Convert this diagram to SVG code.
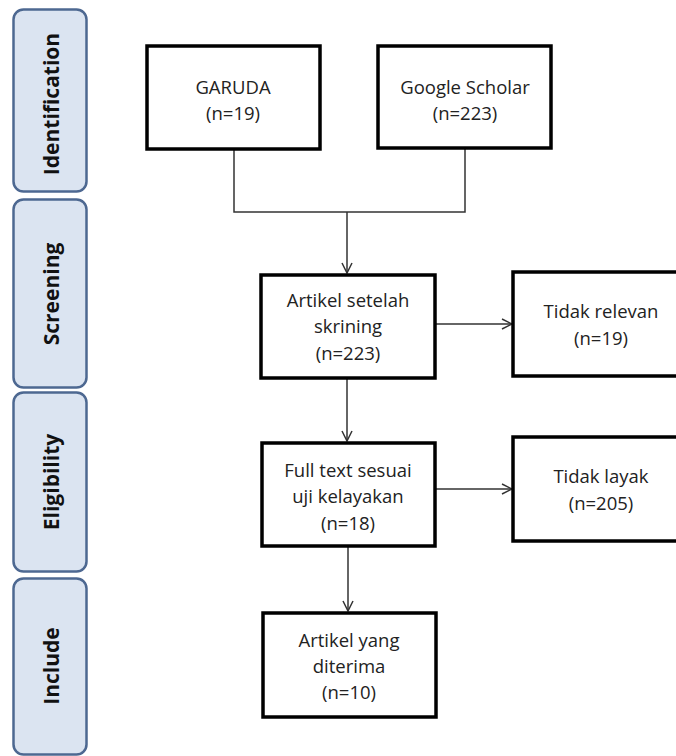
<svg xmlns="http://www.w3.org/2000/svg" width="676" height="756" viewBox="0 0 676 756">
<style>
.phase{fill:#dbe4f1;stroke:#4d6891;stroke-width:2.5}
.plabel{font-family:"Open Sans","Liberation Sans",sans-serif;font-weight:bold;font-size:21px;fill:#111;text-anchor:middle;dominant-baseline:central}
.box{fill:#fff;stroke:#000;stroke-width:3.5}
.t{font-family:"Open Sans","Liberation Sans",sans-serif;font-size:18.5px;fill:#222;text-anchor:middle}
.conn{fill:none;stroke:#333;stroke-width:1.5}
</style>
<defs>
<marker id="arr" viewBox="0 0 12 12" refX="11" refY="6" markerWidth="12" markerHeight="12" markerUnits="userSpaceOnUse" orient="auto">
<path d="M1,1 L11,6 L1,11" fill="none" stroke="#333" stroke-width="1.5"/>
</marker>
</defs>
<rect width="676" height="756" fill="#fff"/>
<g id="phase-identification"><rect class="phase" x="13.5" y="9.5" width="73" height="182" rx="10"/><text class="plabel" transform="translate(51,104) rotate(-90)">Identification</text></g>
<g id="phase-screening"><rect class="phase" x="13.5" y="199.5" width="73" height="188" rx="10"/><text class="plabel" transform="translate(51,294) rotate(-90)">Screening</text></g>
<g id="phase-eligibility"><rect class="phase" x="13.5" y="392.5" width="73" height="179" rx="10"/><text class="plabel" transform="translate(51,482) rotate(-90)">Eligibility</text></g>
<g id="phase-include"><rect class="phase" x="13.5" y="578.5" width="73" height="176" rx="10"/><text class="plabel" transform="translate(51,666) rotate(-90)">Include</text></g>

<g id="connectors">
<path class="conn" d="M234,149 V212 H465 V148"/>
<path class="conn" d="M347,212 V273" marker-end="url(#arr)"/>
<path class="conn" d="M435,324 H512" marker-end="url(#arr)"/>
<path class="conn" d="M347,378 V441" marker-end="url(#arr)"/>
<path class="conn" d="M435,489 H512" marker-end="url(#arr)"/>
<path class="conn" d="M348,546 V611" marker-end="url(#arr)"/>
</g>

<g id="garuda"><rect class="box" x="147" y="46" width="173" height="103"/><text class="t" x="233" y="94">GARUDA</text><text class="t" x="233" y="120">(n=19)</text></g>
<g id="google-scholar"><rect class="box" x="378" y="46" width="173" height="102"/><text class="t" x="465" y="94">Google Scholar</text><text class="t" x="465" y="120">(n=223)</text></g>
<g id="artikel-setelah"><rect class="box" x="261" y="275" width="174" height="103"/><text class="t" x="348" y="307">Artikel setelah</text><text class="t" x="348" y="333">skrining</text><text class="t" x="348" y="360">(n=223)</text></g>
<g id="tidak-relevan"><rect class="box" x="513" y="272" width="176" height="104"/><text class="t" x="601" y="318">Tidak relevan</text><text class="t" x="601" y="345">(n=19)</text></g>
<g id="full-text"><rect class="box" x="262" y="443" width="173" height="103"/><text class="t" x="348" y="477">Full text sesuai</text><text class="t" x="348" y="503">uji kelayakan</text><text class="t" x="348" y="530">(n=18)</text></g>
<g id="tidak-layak"><rect class="box" x="513" y="437" width="176" height="104"/><text class="t" x="601" y="483">Tidak layak</text><text class="t" x="601" y="510">(n=205)</text></g>
<g id="artikel-diterima"><rect class="box" x="263" y="613" width="173" height="104"/><text class="t" x="349" y="647">Artikel yang</text><text class="t" x="349" y="673">diterima</text><text class="t" x="349" y="699">(n=10)</text></g>
</svg>
